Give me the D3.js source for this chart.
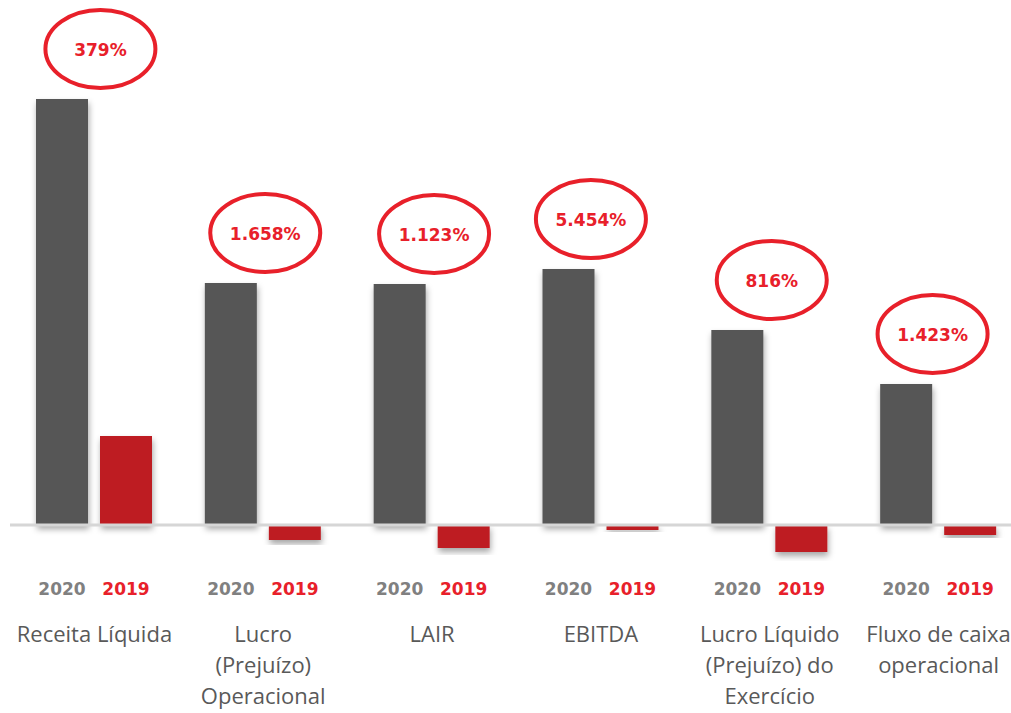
<!DOCTYPE html>
<html lang="pt-BR">
<head>
<meta charset="utf-8">
<title>Indicadores 2020 x 2019</title>
<script src="https://cdn.jsdelivr.net/npm/d3@7"></script>
<style>
  html, body { margin: 0; padding: 0; background: #ffffff; }
  svg { display: block; }
</style>
</head>
<body>
<svg id="chart" width="1011" height="713"></svg>
<script>
// Indicadores financeiros, 2020 contra 2019
const categories = [
  "Receita Líquida",
  "Lucro (Prejuízo) Operacional",
  "LAIR",
  "EBITDA",
  "Lucro Líquido (Prejuízo) do Exercício",
  "Fluxo de caixa operacional"
];
const categoryLines = [
  ["Receita Líquida"],
  ["Lucro", "(Prejuízo)", "Operacional"],
  ["LAIR"],
  ["EBITDA"],
  ["Lucro Líquido", "(Prejuízo) do", "Exercício"],
  ["Fluxo de caixa", "operacional"]
];
const years = ["2020", "2019"];
const values2020 = [426, 242, 241, 256, 195, 141];
const values2019 = [89, -15, -23, -5, -27, -10];
const variation = ["379%", "1.658%", "1.123%", "5.454%", "816%", "1.423%"];
// small horizontal nudges for the callout ellipses
const calloutNudge = [6, 2, 2, -10, 2, -6];

const W = 1011, H = 713;
const zeroY = 525;
const svg = d3.select("#chart");

const defs = svg.append("defs");
const shadow = defs.append("filter").attr("id", "barShadow")
  .attr("x", "-30%").attr("y", "-10%").attr("width", "160%").attr("height", "140%");
shadow.append("feDropShadow")
  .attr("dx", 1).attr("dy", 4).attr("stdDeviation", 3)
  .attr("flood-color", "#000").attr("flood-opacity", 0.35);

const x0 = d3.scaleBand().domain(categories).range([10, 1023]).padding(0);
const x1 = d3.scaleBand().domain(years).range([26, 142]).paddingInner(0.1875).paddingOuter(0);
const y = d3.scaleLinear().domain([0, 426]).range([zeroY, 99]);

const colors = { "2020": "#575757", "2019": "#be1e24" };
const labelColors = { "2020": "#808080", "2019": "#e8202a" };

const rows = categories.map((c, i) => ({
  cat: c, i,
  vals: [{ year: "2020", v: values2020[i] }, { year: "2019", v: values2019[i] }]
}));

const groups = svg.append("g").selectAll("g.grp")
  .data(rows).join("g")
  .attr("class", "grp")
  .attr("transform", d => `translate(${x0(d.cat)},0)`);

// bars
groups.selectAll("rect")
  .data(d => d.vals)
  .join("rect")
  .attr("x", d => x1(d.year))
  .attr("width", x1.bandwidth())
  .attr("y", d => d.v >= 0 ? y(d.v) : y(0))
  .attr("height", d => Math.abs(y(d.v) - y(0)))
  .attr("fill", d => colors[d.year])
  .attr("filter", "url(#barShadow)");

// zero line
svg.append("line")
  .attr("x1", 10).attr("x2", W)
  .attr("y1", y(0)).attr("y2", y(0))
  .attr("stroke", "#d6d6d6").attr("stroke-width", 3);

// year labels under each bar
groups.selectAll("text.year")
  .data(d => d.vals)
  .join("text")
  .attr("class", "year")
  .attr("x", d => x1(d.year) + x1.bandwidth() / 2)
  .attr("y", 595)
  .attr("text-anchor", "middle")
  .attr("font-family", "'DejaVu Sans', sans-serif")
  .attr("font-weight", "bold")
  .attr("font-size", 17)
  .attr("fill", d => labelColors[d.year])
  .text(d => d.year);

// category names
groups.append("text")
  .attr("class", "cat")
  .attr("text-anchor", "middle")
  .attr("font-family", "'Open Sans', sans-serif")
  .attr("font-size", 22)
  .attr("fill", "#595959")
  .selectAll("tspan")
  .data(d => categoryLines[d.i])
  .join("tspan")
  .attr("x", x0.bandwidth() / 2)
  .attr("y", (d, k) => 642 + k * 31)
  .text(d => d);

// variation callouts
const callouts = groups.append("g")
  .attr("transform", d => `translate(${x0.bandwidth() / 2 + calloutNudge[d.i]},${y(values2020[d.i]) - 50})`);
callouts.append("ellipse")
  .attr("rx", 55).attr("ry", 39)
  .attr("fill", "none")
  .attr("stroke", "#e8202a")
  .attr("stroke-width", 4);
callouts.append("text")
  .attr("text-anchor", "middle")
  .attr("y", 6.5)
  .attr("font-family", "'DejaVu Sans', sans-serif")
  .attr("font-weight", "bold")
  .attr("font-size", 17)
  .attr("fill", "#e8202a")
  .text(d => variation[d.i]);
</script>
</body>
</html>
